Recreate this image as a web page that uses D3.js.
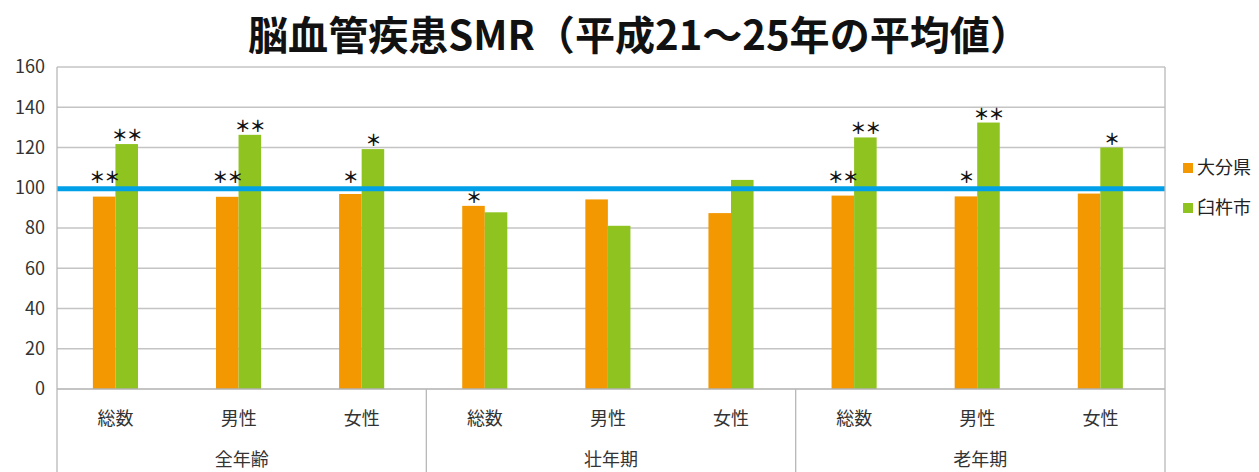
<!DOCTYPE html>
<html lang="ja">
  <head>
    <meta charset="UTF-8" />
    <title>脳血管疾患SMR</title>
    <script src="https://d3js.org/d3.v7.min.js"></script>
    <style>
      body { margin: 0; background: #fff; }
      text { font-family: "Noto Sans CJK JP", sans-serif; }
    </style>
  </head>
  <body>
    <div id="graph"></div>
    <script>
      // data
      var categories = ["総数", "男性", "女性", "総数", "男性", "女性", "総数", "男性", "女性"];
      var groups = ["全年齢", "壮年期", "老年期"];
      var seriesNames = ["大分県", "臼杵市"];
      var oitaValues = [95.6, 95.5, 96.9, 91.0, 94.2, 87.4, 96.1, 95.7, 97.1];
      var usukiValues = [121.7, 126.3, 119.2, 87.8, 81.1, 103.9, 125.0, 132.4, 120.0];
      var oitaMarks = ["**", "**", "*", "*", "", "", "**", "*", ""];
      var usukiMarks = ["**", "**", "*", "", "", "", "**", "**", "*"];
      var yTicks = [0, 20, 40, 60, 80, 100, 120, 140, 160];
      var baseline = 100;

      var W = 1259, H = 472;
      var margin = { top: 67, right: 94, bottom: 83, left: 57 };
      var width = W - margin.left - margin.right,
        height = H - margin.top - margin.bottom;
      var colors = ["#f39800", "#8fc31f"];

      var svg = d3.select("#graph").append("svg")
        .attr("width", W).attr("height", H);

      svg.append("text")
        .attr("x", 639).attr("y", 50)
        .attr("text-anchor", "middle")
        .attr("font-size", 40).attr("font-weight", 700)
        .attr("fill", "#111")
        .attr("textLength", 782).attr("lengthAdjust", "spacingAndGlyphs")
        .text("脳血管疾患SMR（平成21～25年の平均値）");

      var g = svg.append("g")
        .attr("transform", "translate(" + margin.left + "," + margin.top + ")");

      var idx = d3.range(categories.length);
      var x = d3.scaleBand().domain(idx).range([0, width]);
      var x2 = d3.scaleBand().domain([0, 1]).range([0, x.bandwidth()])
        .paddingOuter(1.73).align(0.46);
      var y = d3.scaleLinear().domain([0, 160]).range([height, 0]);

      // gridlines
      g.append("g").selectAll("line").data(yTicks.filter(d => d > 0)).join("line")
        .attr("x1", 0).attr("x2", width)
        .attr("y1", d => y(d)).attr("y2", d => y(d))
        .attr("stroke", "#c4c4c4").attr("stroke-width", 1.3);

      // y axis labels
      var yAxis = g.append("g").call(d3.axisLeft(y).tickValues(yTicks).tickSize(0).tickPadding(12));
      yAxis.select(".domain").remove();
      yAxis.selectAll("text")
        .attr("font-family", "Noto Sans CJK JP, sans-serif")
        .attr("font-size", 18).attr("fill", "#333");

      // bars
      var rows = idx.map(i => ({ i: i, vals: [oitaValues[i], usukiValues[i]], marks: [oitaMarks[i], usukiMarks[i]] }));
      var cat = g.selectAll(".cat").data(rows).join("g")
        .attr("transform", d => "translate(" + x(d.i) + ",0)");
      cat.selectAll("rect").data(d => d.vals.map((v, s) => ({ v: v, s: s }))).join("rect")
        .attr("x", d => x2(d.s))
        .attr("width", x2.bandwidth())
        .attr("y", d => y(d.v))
        .attr("height", d => height - y(d.v))
        .attr("fill", d => colors[d.s]);

      // significance marks
      cat.selectAll("text.mark").data(d => d.vals.map((v, s) => ({ v: v, s: s, m: d.marks[s] })).filter(d => d.m))
        .join("text").attr("class", "mark")
        .attr("x", d => x2(d.s) + x2.bandwidth() / 2)
        .attr("y", d => {
          var ty = y(d.v) - 3;
          if (d.v > 93 && d.v < baseline) ty = y(baseline) - 5;
          return ty;
        })
        .attr("text-anchor", "middle")
        .attr("font-size", 16).attr("font-weight", 700).attr("fill", "#111")
        .attr("letter-spacing", -1)
        .text(d => d.m.replace(/\*/g, "＊"));

      // baseline 100
      g.append("line")
        .attr("x1", 0).attr("x2", width)
        .attr("y1", y(baseline) + 1).attr("y2", y(baseline) + 1)
        .attr("stroke", "#00a0e9").attr("stroke-width", 5);

      // frame and x axis
      g.append("line").attr("x1", 0).attr("x2", width).attr("y1", height).attr("y2", height)
        .attr("stroke", "#b0b0b0").attr("stroke-width", 1.3);
      [0, 3, 6, 9].forEach(function (k) {
        var xx = k < 9 ? x(k) : width;
        g.append("line")
          .attr("x1", xx).attr("x2", xx)
          .attr("y1", (k === 0 || k === 9) ? 0 : height).attr("y2", H - margin.top)
          .attr("stroke", "#b8b8b8").attr("stroke-width", 1.3);
      });

      g.selectAll("text.cat").data(idx).join("text").attr("class", "cat")
        .attr("x", d => x(d) + x.bandwidth() / 2 - 3)
        .attr("y", height + 36)
        .attr("text-anchor", "middle")
        .attr("font-size", 18).attr("fill", "#333")
        .text(d => categories[d]);

      g.selectAll("text.grp").data(groups).join("text").attr("class", "grp")
        .attr("x", (d, i) => x(i * 3) + x.bandwidth() * 1.5)
        .attr("y", height + 77)
        .attr("text-anchor", "middle")
        .attr("font-size", 18).attr("fill", "#333")
        .text(d => d);

      // legend
      var leg = svg.append("g").attr("transform", "translate(1183,163)");
      seriesNames.forEach(function (n, i) {
        leg.append("rect").attr("x", 0).attr("y", i * 40).attr("width", 10).attr("height", 10)
          .attr("fill", colors[i]);
        leg.append("text").attr("x", 14).attr("y", i * 40 + 11)
          .attr("font-size", 18).attr("fill", "#222").text(n);
      });
    </script>
  </body>
</html>
